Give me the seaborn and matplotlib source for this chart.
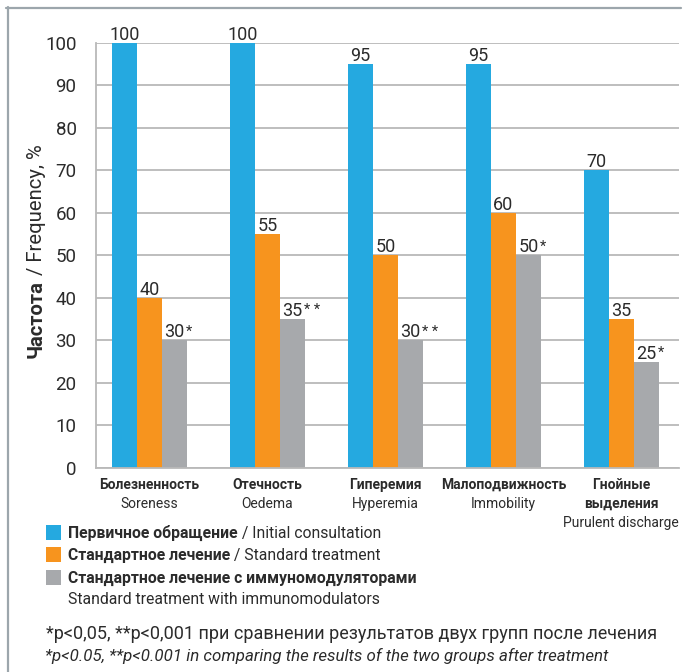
import numpy as np
import pandas as pd
import matplotlib
matplotlib.use("Agg")
import matplotlib.pyplot as plt
import seaborn as sns
from matplotlib.patches import Rectangle
from matplotlib.lines import Line2D
from matplotlib.text import Annotation

# --- data -------------------------------------------------------------
categories_ru = ["Болезненность", "Отечность", "Гиперемия", "Малоподвижность", "Гнойные\nвыделения"]
categories_en = ["Soreness", "Oedema", "Hyperemia", "Immobility", "Purulent discharge"]
groups_ru = ["Первичное обращение", "Стандартное лечение", "Стандартное лечение с иммуномодуляторами"]
groups_en = ["Initial consultation", "Standard treatment", "Standard treatment with immunomodulators"]
initial = [100, 100, 95, 95, 70]
standard = [40, 55, 50, 60, 35]
immuno = [30, 35, 30, 50, 25]
immuno_marks = ["*", "**", "**", "*", "*"]
yticks = [0, 10, 20, 30, 40, 50, 60, 70, 80, 90, 100]
ylabel_bold = "Частота"
ylabel_rest = " / Frequency, %"
footnote_ru = "*p<0,05, **p<0,001 при сравнении результатов двух групп после лечения"
footnote_en = "*p<0.05, **p<0.001 in comparing the results of the two groups after treatment"

colors = ["#25a9e0", "#f7941e", "#a7a9ac"]
TEXT = "#2b2b2b"
GRID = "#b9b9b9"
FRAME = "#9ca6ac"

sns.set_style("white")
FONT = ["Roboto", "DejaVu Sans"]
plt.rcParams["font.family"] = FONT

W, H = 689, 672
fig = plt.figure(figsize=(W / 100, H / 100), dpi=100)


def fx(x):
    return x / W


def fy(y):
    return 1 - y / H


ax = fig.add_axes([fx(96), fy(468), (679 - 96) / W, (468 - 42.7) / H])

df = pd.DataFrame({
    "category": np.tile(categories_en, 3),
    "group": np.repeat(groups_ru, len(categories_en)),
    "value": initial + standard + immuno,
})

sns.barplot(data=df, x="category", y="value", hue="group", palette=colors,
            width=0.636, gap=0, saturation=1, errorbar=None, legend=False,
            linewidth=0, ax=ax, zorder=2)

ax.set_xlim(-0.455, 4.49)
ax.set_ylim(0, 100)
ax.set_yticks(yticks)
ax.set_yticklabels([str(t) for t in yticks])
ax.yaxis.grid(True, color=GRID, lw=1.3)
ax.set_axisbelow(True)
ax.set_xlabel("")
ax.set_ylabel("")
ax.set_xticks(range(len(categories_en)))
ax.set_xticklabels([])
ax.tick_params(axis="both", length=0)
ax.tick_params(axis="y", labelsize=13.5, labelcolor=TEXT, pad=14)
for s in ("top", "right"):
    ax.spines[s].set_visible(False)
for s in ("left", "bottom"):
    ax.spines[s].set_color(GRID)
    ax.spines[s].set_linewidth(1.3)

# value labels above every bar, significance marks after the gray ones
series = [initial, standard, immuno]
for k, (cont, vals) in enumerate(zip(ax.containers, series)):
    for j, (bar, v) in enumerate(zip(cont, vals)):
        cx = bar.get_x() + bar.get_width() / 2
        t = ax.annotate(str(v), xy=(cx, v), xytext=(0, 3), textcoords="offset pixels",
                        ha="center", va="baseline", fontsize=13, color=TEXT)
        if k == 2:
            ax.annotate(" ".join(immuno_marks[j]), xy=(1, 0.93), xycoords=t,
                        xytext=(1, 0), textcoords="offset pixels",
                        ha="left", va="top", fontsize=10.5, color=TEXT)

# two-line category labels: bold Russian, regular English
for i, (ru, en) in enumerate(zip(categories_ru, categories_en)):
    lines = [(s, "bold") for s in ru.split("\n")] + [(en, "normal")]
    for n, (s, w) in enumerate(lines):
        ax.annotate(s, xy=(i, 0), xycoords=ax.get_xaxis_transform(),
                    xytext=(0, -(21 + 19 * n)), textcoords="offset pixels",
                    ha="center", va="baseline", fontsize=10, fontweight=w,
                    color=TEXT)

# y-axis title, bold word followed by regular text
yb = fig.text(fx(36), fy(358), ylabel_bold, rotation=90, ha="center", va="bottom",
              fontsize=14.6, fontweight="bold", color=TEXT)
fig.add_artist(Annotation(ylabel_rest, xy=(0.5, 1), xycoords=yb, rotation=90,
                          ha="center", va="bottom", fontsize=14.6, color=TEXT))

# legend
rows = [538, 560, 583]
for c, ru, en, base in zip(colors, groups_ru, groups_en, rows):
    fig.add_artist(Rectangle((fx(46), fy(base + 2)), 15 / W, 15 / H,
                             transform=fig.transFigure, color=c, lw=0))
    tb = fig.text(fx(68), fy(base), ru, ha="left", va="baseline", fontsize=11.3,
                  fontweight="bold", color=TEXT)
    if en != groups_en[2]:
        fig.add_artist(Annotation(" / " + en, xy=(1, 0), xycoords=tb,
                                  ha="left", va="bottom", fontsize=11.3, color=TEXT))
fig.text(fx(68), fy(604), groups_en[2], ha="left", va="baseline", fontsize=11.3,
         color=TEXT)

# footnotes
fig.text(fx(46), fy(639), footnote_ru, ha="left", va="baseline", fontsize=13,
         color=TEXT)
fig.text(fx(45), fy(661), footnote_en, ha="left", va="baseline", fontsize=12.2,
         style="italic", color=TEXT)

# page frame (top and left rules)
fig.add_artist(Line2D([fx(6), fx(681)], [fy(7.5), fy(7.5)], transform=fig.transFigure,
                      color=FRAME, lw=1.6))
fig.add_artist(Line2D([fx(7.5), fx(7.5)], [fy(7), fy(672)], transform=fig.transFigure,
                      color=FRAME, lw=1.6))

fig.savefig("out.png", dpi=100, facecolor="white")
